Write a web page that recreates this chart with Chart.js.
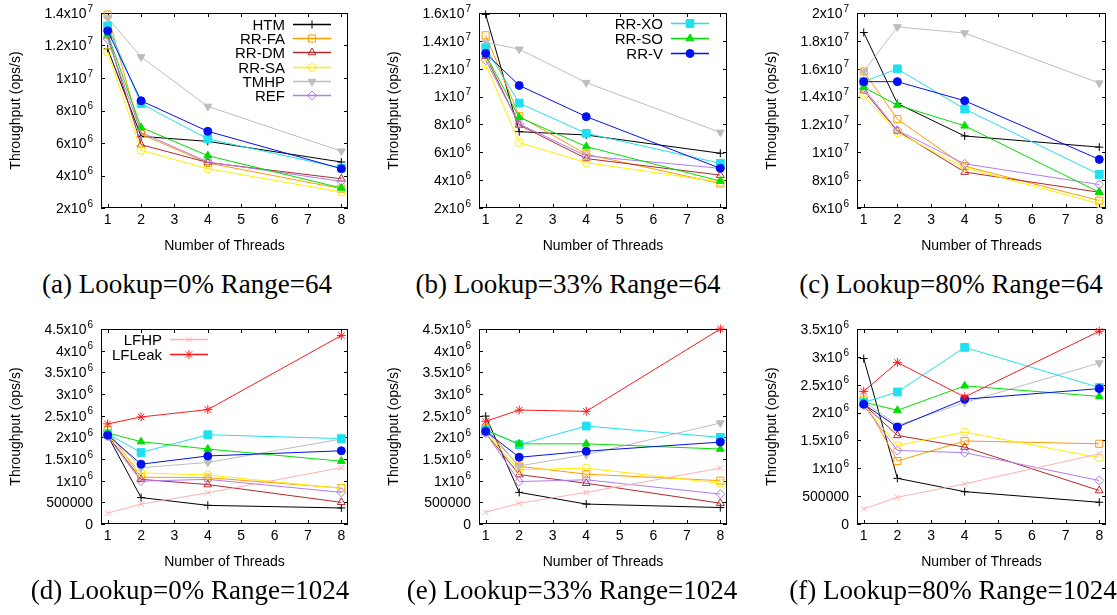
<!DOCTYPE html>
<html>
<head>
<meta charset="utf-8">
<script src="https://cdn.jsdelivr.net/npm/chart.js@4.4.1/dist/chart.umd.min.js"></script>
<style>
  body { margin: 0; background: #fff; }
  #page { position: relative; width: 1117px; height: 615px; overflow: hidden; }
  .panel { position: absolute; height: 262px; }
  .cap {
    position: absolute; width: 380px; text-align: center; white-space: nowrap;
    font-family: "Liberation Serif", "DejaVu Serif", serif; font-size: 27px; color: #000;
  }
</style>
</head>
<body>
<div id="page"></div>
<script>
// ---- data ----
const threads = [1, 2, 4, 8];
const xTicks = [1, 2, 3, 4, 5, 6, 7, 8];
const seriesNames = ['HTM', 'RR-FA', 'RR-DM', 'RR-SA', 'TMHP', 'REF', 'RR-XO', 'RR-SO', 'RR-V', 'LFHP', 'LFLeak'];

const yTicksA = [2e6, 4e6, 6e6, 8e6, 1e7, 1.2e7, 1.4e7];
const yTicksB = [2e6, 4e6, 6e6, 8e6, 1e7, 1.2e7, 1.4e7, 1.6e7];
const yTicksC = [6e6, 8e6, 1e7, 1.2e7, 1.4e7, 1.6e7, 1.8e7, 2e7];
const yTicksDE = [0, 5e5, 1e6, 1.5e6, 2e6, 2.5e6, 3e6, 3.5e6, 4e6, 4.5e6];
const yTicksF = [0, 5e5, 1e6, 1.5e6, 2e6, 2.5e6, 3e6, 3.5e6];

// rows follow seriesNames
const valuesA = [
  [1.18e7, 6.41e6, 6.10e6, 4.83e6],
  [1.39e7, 6.55e6, 4.77e6, 3.19e6],
  [1.26e7, 5.90e6, 4.80e6, 3.80e6],
  [1.16e7, 5.55e6, 4.42e6, 2.98e6],
  [1.37e7, 1.13e7, 8.25e6, 5.50e6],
  [1.24e7, 6.65e6, 4.83e6, 3.64e6],
  [1.32e7, 8.42e6, 6.25e6, 4.46e6],
  [1.27e7, 6.96e6, 5.22e6, 3.23e6],
  [1.29e7, 8.60e6, 6.72e6, 4.42e6]
];
const valuesB = [
  [1.59e7, 7.48e6, 7.24e6, 5.93e6],
  [1.44e7, 8.59e6, 5.86e6, 3.76e6],
  [1.29e7, 7.96e6, 5.55e6, 4.36e6],
  [1.23e7, 6.70e6, 5.26e6, 3.86e6],
  [1.39e7, 1.34e7, 1.10e7, 7.43e6],
  [1.26e7, 8.03e6, 5.74e6, 4.85e6],
  [1.35e7, 9.53e6, 7.36e6, 5.21e6],
  [1.30e7, 8.51e6, 6.41e6, 3.93e6],
  [1.31e7, 1.08e7, 8.56e6, 4.85e6]
];
const valuesC = [
  [1.86e7, 1.35e7, 1.117e7, 1.037e7],
  [1.58e7, 1.238e7, 9.0e6, 6.53e6],
  [1.442e7, 1.153e7, 8.58e6, 7.13e6],
  [1.406e7, 1.141e7, 8.89e6, 6.31e6],
  [1.58e7, 1.90e7, 1.856e7, 1.497e7],
  [1.458e7, 1.158e7, 9.17e6, 7.68e6],
  [1.507e7, 1.599e7, 1.31e7, 8.41e6],
  [1.466e7, 1.339e7, 1.19e7, 7.13e6],
  [1.507e7, 1.507e7, 1.37e7, 9.49e6]
];
const valuesD = [
  [2.04e6, 6.1e5, 4.3e5, 3.7e5],
  [2.17e6, 1.08e6, 1.07e6, 8.3e5],
  [2.05e6, 1.03e6, 9.1e5, 5.0e5],
  [2.05e6, 1.18e6, 1.13e6, 8.2e5],
  [2.10e6, 1.30e6, 1.42e6, 1.96e6],
  [2.02e6, 9.9e5, 1.03e6, 7.3e5],
  [2.08e6, 1.65e6, 2.06e6, 1.97e6],
  [2.10e6, 1.90e6, 1.73e6, 1.45e6],
  [2.05e6, 1.38e6, 1.57e6, 1.69e6],
  [2.5e5, 4.6e5, 7.2e5, 1.30e6],
  [2.31e6, 2.47e6, 2.64e6, 4.35e6]
];
const valuesE = [
  [2.49e6, 7.3e5, 4.6e5, 3.8e5],
  [2.22e6, 1.33e6, 1.15e6, 1.0e6],
  [2.10e6, 1.14e6, 9.4e5, 4.8e5],
  [2.10e6, 1.25e6, 1.29e6, 9.4e5],
  [2.15e6, 1.34e6, 1.60e6, 2.33e6],
  [2.10e6, 9.8e5, 1.02e6, 6.9e5],
  [2.18e6, 1.83e6, 2.26e6, 2.0e6],
  [2.16e6, 1.85e6, 1.85e6, 1.73e6],
  [2.14e6, 1.54e6, 1.68e6, 1.89e6],
  [2.7e5, 4.8e5, 7.3e5, 1.29e6],
  [2.37e6, 2.63e6, 2.60e6, 4.50e6]
];
const valuesF = [
  [2.97e6, 8.2e5, 5.8e5, 3.9e5],
  [2.22e6, 1.13e6, 1.49e6, 1.44e6],
  [2.15e6, 1.59e6, 1.38e6, 6.0e5],
  [2.13e6, 1.41e6, 1.65e6, 1.19e6],
  [2.20e6, 1.77e6, 2.18e6, 2.89e6],
  [2.13e6, 1.32e6, 1.28e6, 7.8e5],
  [2.18e6, 2.37e6, 3.17e6, 2.45e6],
  [2.19e6, 2.04e6, 2.48e6, 2.29e6],
  [2.15e6, 1.74e6, 2.24e6, 2.43e6],
  [2.7e5, 4.8e5, 7.2e5, 1.26e6],
  [2.38e6, 2.90e6, 2.28e6, 3.46e6]
];

// ---- styles ----
const seriesStyle = {
  'HTM':    { color: '#000000', point: 'cross',    radius: 4,   filled: true },
  'RR-FA':  { color: '#ff9a00', point: 'rect',     radius: 5,   filled: false },
  'RR-DM':  { color: '#b02a2a', point: 'triangle', radius: 4.5, filled: false },
  'RR-SA':  { color: '#ffee00', point: 'circle',   radius: 4,   filled: false },
  'TMHP':   { color: '#bdbdbd', point: 'triangle', radius: 4.5, filled: true, rotation: 180 },
  'REF':    { color: '#b07cf0', point: 'rectRot',  radius: 4.5, filled: false },
  'RR-XO':  { color: '#1fe0ee', point: 'rect',     radius: 5.5, filled: true },
  'RR-SO':  { color: '#00e000', point: 'triangle', radius: 4.5, filled: true },
  'RR-V':   { color: '#0010f0', point: 'circle',   radius: 4,   filled: true },
  'LFHP':   { color: '#ffb0b0', point: 'crossRot', radius: 4,   filled: true },
  'LFLeak': { color: '#ff1a1a', point: 'star',     radius: 4.5, filled: true }
};

const cols = [
  { left: 0,   width: 370, areaLeft: 101, areaRight: 348 },
  { left: 370, width: 370, areaLeft: 109, areaRight: 357 },
  { left: 740, width: 377, areaLeft: 117, areaRight: 366 }
];
const rowTops = [0, 316];

const panels = [
  { row: 0, col: 0, values: valuesA, yTicks: yTicksA, caption: '(a) Lookup=0% Range=64', capX: 187,
    key: { items: ['HTM', 'RR-FA', 'RR-DM', 'RR-SA', 'TMHP', 'REF'], x: 285, y: 24, step: 14.2 } },
  { row: 0, col: 1, values: valuesB, yTicks: yTicksB, caption: '(b) Lookup=33% Range=64', capX: 568,
    key: { items: ['RR-XO', 'RR-SO', 'RR-V'], x: 293, y: 23, step: 14.8 } },
  { row: 0, col: 2, values: valuesC, yTicks: yTicksC, caption: '(c) Lookup=80% Range=64', capX: 951 },
  { row: 1, col: 0, values: valuesD, yTicks: yTicksDE, caption: '(d) Lookup=0% Range=1024', capX: 190,
    key: { items: ['LFHP', 'LFLeak'], x: 162, y: 23, step: 15 } },
  { row: 1, col: 1, values: valuesE, yTicks: yTicksDE, caption: '(e) Lookup=33% Range=1024', capX: 572 },
  { row: 1, col: 2, values: valuesF, yTicks: yTicksF, caption: '(f) Lookup=80% Range=1024', capX: 953 }
];
const captionTops = [269, 575];

const SANS = '"Liberation Sans", Arial, Helvetica, sans-serif';

// split a tick value into mantissa text and exponent text (gnuplot style)
function tickParts(v) {
  if (v < 1e6) return [String(v), ''];
  const e = Math.floor(Math.log10(v) + 1e-9);
  const m = +(v / Math.pow(10, e)).toFixed(2);
  return [m + 'x10', String(e)];
}

// gnuplot-like border with inward ticks on all sides, plus y labels with raised exponent
const framePlugin = {
  id: 'frame',
  beforeDatasetsDraw(chart) {
    const { ctx, chartArea: a, scales: { x, y } } = chart;
    ctx.save();
    ctx.strokeStyle = '#000';
    ctx.lineWidth = 1;
    ctx.strokeRect(a.left + 0.5, a.top + 0.5, a.right - a.left - 1, a.bottom - a.top - 1);
    ctx.beginPath();
    x.ticks.forEach(t => {
      const px = Math.round(x.getPixelForValue(t.value)) + 0.5;
      ctx.moveTo(px, a.bottom); ctx.lineTo(px, a.bottom - 4);
      ctx.moveTo(px, a.top); ctx.lineTo(px, a.top + 4);
    });
    y.ticks.forEach(t => {
      const py = Math.round(y.getPixelForValue(t.value)) + 0.5;
      ctx.moveTo(a.left, py); ctx.lineTo(a.left + 4, py);
      ctx.moveTo(a.right, py); ctx.lineTo(a.right - 4, py);
    });
    ctx.stroke();

    ctx.fillStyle = '#000';
    ctx.textBaseline = 'middle';
    ctx.textAlign = 'left';
    y.ticks.forEach(t => {
      const py = y.getPixelForValue(t.value);
      const [base, exp] = tickParts(t.value);
      ctx.font = '14px ' + SANS;
      const wb = ctx.measureText(base).width;
      ctx.font = '10px ' + SANS;
      const we = exp ? ctx.measureText(exp).width + 1 : 0;
      const x0 = a.left - 8 - wb - we;
      ctx.font = '14px ' + SANS;
      ctx.fillText(base, x0, py + 1);
      if (exp) {
        ctx.font = '10px ' + SANS;
        ctx.fillText(exp, x0 + wb + 1, py - 4);
      }
    });
    ctx.restore();
  }
};

// key: text right-aligned, then a line sample with the marker
const keyPlugin = {
  id: 'gkey',
  afterDraw(chart, args, opts) {
    if (!opts.items) return;
    const ctx = chart.ctx;
    ctx.save();
    ctx.font = '15px ' + SANS;
    ctx.textAlign = 'right';
    ctx.textBaseline = 'middle';
    opts.items.forEach((name, i) => {
      const ds = chart.data.datasets.find(d => d.label === name);
      const yy = Math.round(opts.y + i * opts.step) + 0.5;
      ctx.fillStyle = '#000';
      ctx.fillText(name, opts.x, yy + 1);
      ctx.strokeStyle = ds.borderColor;
      ctx.lineWidth = 1.5;
      ctx.beginPath();
      ctx.moveTo(opts.x + 8, yy);
      ctx.lineTo(opts.x + 46, yy);
      ctx.stroke();
      ctx.lineWidth = 1;
      ctx.fillStyle = ds.pointBackgroundColor;
      Chart.helpers.drawPoint(ctx, {
        pointStyle: ds.pointStyle, radius: ds.pointRadius,
        rotation: ds.pointRotation || 0, borderWidth: 1
      }, opts.x + 27, yy);
    });
    ctx.restore();
  }
};

const page = document.getElementById('page');

panels.forEach(p => {
  const c = cols[p.col];
  const box = document.createElement('div');
  box.className = 'panel';
  box.style.left = c.left + 'px';
  box.style.top = rowTops[p.row] + 'px';
  box.style.width = c.width + 'px';
  const canvas = document.createElement('canvas');
  box.appendChild(canvas);
  page.appendChild(box);

  const cap = document.createElement('div');
  cap.className = 'cap';
  cap.textContent = p.caption;
  cap.style.left = (p.capX - 190) + 'px';
  cap.style.top = captionTops[p.row] + 'px';
  page.appendChild(cap);

  const datasets = p.values.map((vals, i) => {
    const name = seriesNames[i];
    const s = seriesStyle[name];
    return {
      label: name,
      data: threads.map((t, j) => ({ x: t, y: vals[j] })),
      borderColor: s.color,
      backgroundColor: s.color,
      pointBackgroundColor: s.filled ? s.color : 'rgba(0,0,0,0)',
      pointBorderColor: s.color,
      pointStyle: s.point,
      pointRadius: s.radius,
      pointRotation: s.rotation || 0,
      pointBorderWidth: 1,
      borderWidth: 1,
      tension: 0,
      clip: false,
      order: -i
    };
  });

  new Chart(canvas, {
    type: 'line',
    data: { datasets },
    options: {
      responsive: true,
      maintainAspectRatio: false,
      animation: false,
      events: [],
      layout: { padding: { left: 0, right: c.width - c.areaRight, top: 13, bottom: 0 } },
      plugins: {
        legend: { display: false },
        tooltip: { enabled: false },
        gkey: p.key || {}
      },
      scales: {
        x: {
          type: 'linear',
          min: 0.8,
          max: 8.2,
          afterBuildTicks: s => { s.ticks = xTicks.map(v => ({ value: v })); },
          afterFit: s => { s.height = 54; },
          grid: { display: false, drawTicks: false },
          border: { display: false },
          ticks: { color: '#000', font: { family: SANS, size: 14 }, padding: 4, maxRotation: 0 },
          title: { display: true, text: 'Number of Threads', color: '#000',
                   font: { family: SANS, size: 14 }, padding: { top: 0, bottom: 7 } }
        },
        y: {
          min: p.yTicks[0],
          max: p.yTicks[p.yTicks.length - 1],
          afterBuildTicks: s => { s.ticks = p.yTicks.map(v => ({ value: v })); },
          afterFit: s => { s.width = c.areaLeft; },
          grid: { display: false, drawTicks: false },
          border: { display: false },
          ticks: { display: false },
          title: { display: true, text: 'Throughput (ops/s)', color: '#000',
                   font: { family: SANS, size: 14 }, padding: { top: c.areaLeft - 93, bottom: 0 } }
        }
      }
    },
    plugins: [framePlugin, keyPlugin]
  });
});
</script>
</body>
</html>
